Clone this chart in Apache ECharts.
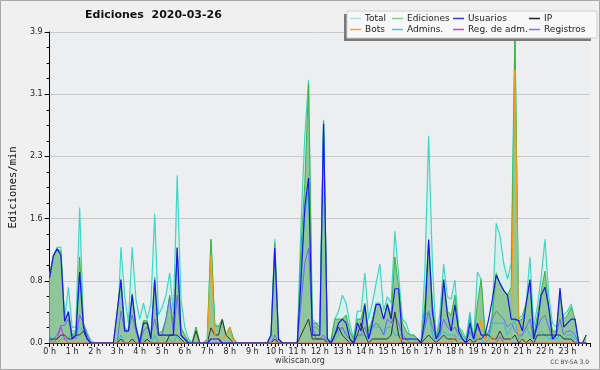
<!DOCTYPE html>
<html><head><meta charset="utf-8">
<script src="https://cdn.jsdelivr.net/npm/echarts@6/dist/echarts.min.js"></script>
<style>html,body{margin:0;padding:0;background:#f0f0f0}#c{width:600px;height:370px}</style>
</head><body><div id="c"></div><script>
// 10-minute samples, 6 per hour, 0h00 .. 23h50
const total = [
 0.85,1.1,1.2,1.2,0.3,0.7, 0.2,0.2,1.7,0.25,0.13,0.03, 0,0,0,0,0,0,
 0.05,1.2,0.6,0.25,1.2,0.55, 0.3,0.5,0.3,0.5,1.62,0.35, 0.45,0.6,0.88,0.36,2.1,0.55,
 0.2,0.05,0,0.2,0,0, 0.05,1.3,0.25,0.2,0.3,0.1, 0.2,0.05,0,0,0,0,
 0,0,0,0,0,0.1, 1.3,0.05,0,0,0,0, 0,1.5,2.6,3.3,0.3,0.25,
 0.25,2.8,0.05,0.05,0.3,0.4, 0.6,0.5,0.25,0.05,0.4,0.4, 0.88,0.3,0.5,0.75,0.99,0.4,
 0.58,0.5,1.4,0.85,0.3,0.25, 0.1,0.1,0.05,0.02,0.9,2.6, 1.0,0.05,0.37,0.99,0.58,0.55,
 0.79,0.2,0.15,0.05,0.39,0.05, 0.89,0.8,0.15,0.1,0.4,1.5, 1.35,1.0,0.8,1.0,3.87,0.3,
 0.35,0.5,1.08,0.2,0.47,0.83, 1.3,0.6,0.25,0.2,0.25,0.35, 0.4,0.49,0.25,0,0,0.1
];
const ediciones = [
 0.85,1.1,1.18,1.15,0.27,0.4, 0.1,0.15,1.08,0.25,0.1,0, 0,0,0,0,0,0,
 0.4,0.8,0.2,0.15,0.62,0.2, 0.03,0.28,0.28,0.1,0.82,0.12, 0.15,0.3,0.6,0.2,1.2,0.2,
 0.1,0.02,0,0.2,0,0, 0.05,1.3,0.22,0.2,0.3,0.1, 0.2,0.05,0,0,0,0,
 0,0,0,0,0,0.1, 1.25,0.05,0,0,0,0, 0,1.2,2.0,3.25,0.25,0.25,
 0.2,2.78,0.05,0.02,0.3,0.3, 0.3,0.35,0.15,0.05,0.3,0.3, 0.5,0.15,0.3,0.5,0.5,0.3,
 0.5,0.35,1.08,0.7,0.25,0.15, 0.1,0.1,0.05,0.02,0.5,1.3, 0.5,0.05,0.25,0.8,0.4,0.35,
 0.6,0.2,0.1,0.05,0.3,0.05, 0.5,0.8,0.12,0.1,0.35,0.88, 0.75,0.66,0.6,0.7,3.85,0.28,
 0.3,0.5,0.8,0.1,0.35,0.65, 0.9,0.45,0.15,0.15,0.6,0.3, 0.35,0.45,0.3,0,0,0.1
];
const usuarios = [
 0.82,1.09,1.18,1.1,0.27,0.39, 0.05,0.1,0.89,0.2,0.05,0, 0,0,0,0,0,0,
 0.39,0.79,0.15,0.15,0.6,0.2, 0,0.25,0.25,0.05,0.79,0.1, 0.1,0.1,0.1,0.1,1.19,0.1,
 0.05,0,0,0,0,0, 0,0.05,0.05,0.05,0,0, 0,0,0,0,0,0,
 0,0,0,0,0,0.1, 1.19,0.05,0,0,0,0, 0,0.8,1.7,2.07,0.1,0.1,
 0.1,2.75,0.05,0,0.1,0.25, 0.3,0.25,0.05,0,0.25,0.15, 0.48,0.05,0.25,0.48,0.48,0.3,
 0.48,0.3,0.68,0.68,0.05,0.05, 0.05,0.05,0.05,0,0.3,1.29, 0.4,0.05,0.15,0.79,0.35,0.15,
 0.48,0.15,0.05,0,0.25,0.05, 0.25,0.1,0.1,0.3,0.55,0.85, 0.75,0.66,0.6,0.3,0.3,0.28,
 0.15,0.5,0.79,0.05,0.25,0.6, 0.7,0.45,0.05,0.1,0.69,0.2, 0.25,0.3,0.3,0,0,0
];
const ip = [
 0.05,0.05,0.05,0.1,0.1,0.05, 0.05,0.1,0.1,0.15,0.05,0, 0,0,0,0,0,0,
 0,0.05,0,0,0.05,0, 0,0,0.05,0,0,0, 0,0,0.1,0.1,0.1,0.05,
 0,0,0,0.15,0,0, 0,0.19,0.1,0.1,0.29,0.1, 0.05,0,0,0,0,0,
 0,0,0,0,0,0, 0.05,0,0,0,0,0, 0,0.1,0.2,0.3,0.05,0.05,
 0.05,0.05,0,0,0.1,0.2, 0.1,0.05,0,0,0.1,0.25, 0.1,0,0.05,0.05,0.05,0.05,
 0.05,0.1,0.39,0.1,0,0, 0,0,0,0,0.05,0.1, 0.05,0,0.05,0.1,0.05,0.05,
 0.05,0,0,0,0.05,0, 0.05,0.05,0.1,0.1,0.05,0.05, 0.15,0.05,0.05,0.05,0.1,0,
 0.05,0,0.05,0,0.1,0.1, 0.1,0.1,0.1,0.1,0.1,0.05, 0.05,0.05,0,0,0,0.1
];
const bots = [
 0,0,0,0,0,0, 0,0,0,0,0,0, 0,0,0,0,0,0,
 0,0,0,0,0,0, 0,0,0,0,0,0, 0,0,0,0,0,0,
 0,0,0,0,0,0, 0,1.1,0.1,0.05,0.05,0.1, 0.2,0,0,0,0,0,
 0,0,0,0,0,0, 0,0,0,0,0,0, 0,0,0,0,0,0,
 0,0,0,0,0,0, 0,0,0,0,0,0, 0,0,0,0,0,0,
 0,0,0,0,0.1,0, 0,0,0,0,0,0, 0,0,0,0,0,0,
 0.08,0,0,0,0,0, 0,0.3,0.05,0,0.1,0, 0,0,0,0,3.43,0.1,
 0,0,0,0,0,0, 0,0,0,0,0,0, 0,0,0,0,0,0
];
const admins = [
 0.1,0,0,0.05,0.05,0.05, 0.15,0.15,0.2,0.15,0.05,0, 0,0,0,0,0,0,
 0,0.1,0,0,0,0, 0,0.05,0,0,0.1,0, 0,0,0.05,0,0.1,0,
 0,0,0,0,0,0, 0,0,0,0,0,0, 0,0,0,0,0,0,
 0,0,0,0,0,0, 0.05,0,0,0,0,0, 0,1.0,1.6,1.9,0.2,0.2,
 0.15,2.75,0.05,0,0.05,0.1, 0.2,0.1,0.05,0,0.05,0.1, 0.1,0.05,0.2,0.2,0.2,0.1,
 0.2,0.2,0.1,0.1,0.1,0.05, 0.05,0.05,0,0,0.37,0.37, 0.1,0,0.1,0.15,0.1,0.1,
 0.1,0.05,0.05,0,0.35,0, 0.1,0.05,0,0.05,0.25,0.25, 0.25,0.25,0.1,0.2,0.3,0.05,
 0.1,0.2,0.1,0.05,0.1,0.15, 0.1,0.05,0.05,0.05,0.1,0.05, 0.1,0.1,0.05,0,0,0
];
const regAdm = [
 0,0,0.05,0.2,0.05,0, 0,0,0,0,0,0, 0,0,0,0,0,0,
 0,0,0,0,0,0, 0,0,0,0,0,0, 0,0,0,0,0,0,
 0,0,0,0,0,0, 0,0,0,0,0,0, 0,0,0,0,0,0,
 0,0,0,0,0,0, 0,0,0,0,0,0, 0,0,0,0,0,0,
 0,0,0,0,0,0, 0,0,0,0,0,0, 0,0,0,0,0,0,
 0,0,0,0,0,0, 0,0,0,0,0,0, 0,0,0,0,0,0,
 0.08,0,0,0,0,0, 0,0,0,0,0,0, 0.08,0,0,0,0,0,
 0,0,0,0,0,0, 0,0,0,0,0,0, 0,0,0,0,0,0
];
const registros = [
 0.02,0.05,0.1,0.22,0.22,0.3, 0.1,0.05,0.35,0.25,0.1,0, 0,0,0,0,0,0,
 0,0.4,0.15,0.15,0.35,0.15, 0,0.15,0.2,0.1,0.3,0.1, 0.1,0.3,0.57,0.1,0.6,0.1,
 0.05,0,0,0,0,0, 0,0,0,0,0,0, 0,0,0,0,0,0,
 0,0,0,0,0,0, 0.1,0,0,0,0,0, 0,0.5,1.0,1.19,0.2,0.05,
 0.05,0.1,0,0,0.1,0.15, 0.2,0.1,0.05,0,0.1,0.1, 0.2,0.05,0.2,0.25,0.2,0.1,
 0.3,0.25,0.35,0.25,0.1,0.05, 0,0,0,0,0.2,0.4, 0.2,0.05,0.1,0.3,0.2,0.15,
 0.2,0.1,0.05,0,0.15,0.05, 0.2,0.1,0.05,0.15,0.3,0.4, 0.35,0.3,0.2,0.25,0.15,0.1,
 0.1,0.2,0.3,0.05,0.2,0.3, 0.35,0.2,0.05,0.1,0.3,0.1, 0.15,0.15,0.1,0,0,0
];
const seriesNames = ['Total','Ediciones','Usuarios','IP','Bots','Admins.','Reg. de adm.','Registros'];
const legendColors = ['#a6e6dc','#86d086','#3a3ae0','#222222','#ffa030','#44c8e0','#d040e0','#7878f0'];

const toXY = a => a.map((v, i) => [i / 6, v]);
const line = (name, data, color, w, z) => ({
  name, type: 'line', data: toXY(data), showSymbol: false, symbol: 'none',
  lineStyle: { color, width: w }, itemStyle: { color }, z, silent: true
});

const chart = echarts.init(document.getElementById('c'), null, { renderer: 'canvas' });
const sans = 'DejaVu Sans';
const legendCol = (names, left) => ({
  data: names.map(n => ({ name: n, itemStyle: { color: legendColors[seriesNames.indexOf(n)] } })),
  left, top: 13, orient: 'vertical', icon: 'rect', itemWidth: 11, itemHeight: 1.5, itemGap: 0,
  selectedMode: false, z: 20, padding: 0,
  textStyle: { fontFamily: sans, fontSize: 9, color: '#222', lineHeight: 11, padding: [0, 0, 0, -1] }
});

chart.setOption({
  animation: false,
  backgroundColor: '#f0f0f0',
  title: { text: 'Ediciones  2020-03-26', left: 85, top: 10, padding: 0,
    textStyle: { fontFamily: sans, fontWeight: 'bold', fontSize: 11, color: '#111' } },
  legend: [
    legendCol(['Total', 'Bots'], 350),
    legendCol(['Ediciones', 'Admins.'], 392),
    legendCol(['Usuarios', 'Reg. de adm.'], 453),
    legendCol(['IP', 'Registros'], 529)
  ],
  grid: { left: 46, right: 10, top: 32, bottom: 27, show: true, backgroundColor: '#edeef0', borderWidth: 0 },
  xAxis: {
    type: 'value', min: 0, max: 24, interval: 1,
    axisLine: { lineStyle: { color: '#000', width: 1 } },
    axisTick: { length: 4, lineStyle: { color: '#000' } },
    minorTick: { show: true, splitNumber: 6, length: 3, lineStyle: { color: '#000' } },
    axisLabel: { formatter: v => v < 24 ? v + ' h' : '', fontFamily: sans, fontSize: 8, color: '#222', margin: 5 },
    splitLine: { show: false }
  },
  yAxis: {
    type: 'value', min: 0, max: 3.9, interval: 0.78,
    name: 'Ediciones/min', nameLocation: 'middle', nameGap: 30, nameRotate: 90,
    nameTextStyle: { fontFamily: 'DejaVu Sans Mono', fontSize: 10.5, color: '#111' },
    axisLine: { show: true, lineStyle: { color: '#000', width: 1 } },
    axisTick: { show: true, length: 5, lineStyle: { color: '#000' } },
    minorTick: { show: true, splitNumber: 4, length: 3, lineStyle: { color: '#000' } },
    axisLabel: { formatter: v => v.toFixed(1), fontFamily: sans, fontSize: 8, color: '#222', margin: 7 },
    splitLine: { show: true, lineStyle: { color: '#c8c8c8', width: 1 } }
  },
  graphic: [
    { type: 'rect', shape: { x: 344, y: 14, width: 247, height: 27 }, style: { fill: '#7a7a7a' }, z: 10 },
    { type: 'rect', shape: { x: 347, y: 11, width: 250, height: 27 }, style: { fill: '#f8f8f8', stroke: '#cfcfcf', lineWidth: 1 }, z: 11 },
    { type: 'text', x: 300, y: 357, style: { text: 'wikiscan.org', font: '8px "DejaVu Sans"', fill: '#333', textAlign: 'center' }, z: 12 },
    { type: 'text', x: 589, y: 359, style: { text: 'CC BY-SA 3.0', font: '6px "DejaVu Sans"', fill: '#444', textAlign: 'right' }, z: 12 },
    { type: 'rect', shape: { x: 0.5, y: 0.5, width: 599, height: 369 }, style: { fill: null, stroke: '#a8a8a8', lineWidth: 1 }, z: 30 }
  ],
  series: [
    Object.assign(line('Total', total, '#3fd6c6', 1.2, 1), { areaStyle: { color: '#d6f1eb', opacity: 1 } }),
    Object.assign(line('Ediciones', ediciones, '#3cb43c', 1, 2), { areaStyle: { color: '#8fc79b', opacity: 1 } }),
    line('Admins.', admins, '#28bce0', 1, 3),
    line('Registros', registros, '#6a6af2', 1, 3),
    line('Reg. de adm.', regAdm, '#d030e0', 1, 3),
    line('IP', ip, '#333333', 1, 3),
    line('Bots', bots, '#ff9a10', 1, 4),
    line('Usuarios', usuarios, '#1818ee', 1.2, 4)
  ]
});
</script></body></html>
